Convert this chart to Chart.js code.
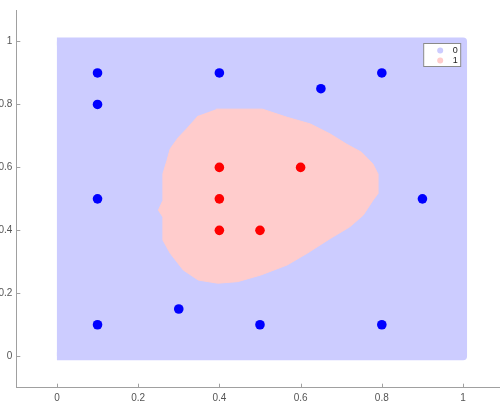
<!DOCTYPE html>
<html>
<head>
<meta charset="utf-8">
<script src="https://cdn.jsdelivr.net/npm/chart.js@4"></script>
<style>
  html, body { margin: 0; padding: 0; background: #fff; }
  #wrap { width: 504px; height: 401px; }
</style>
</head>
<body>
<div id="wrap"><canvas id="chart" width="504" height="401"></canvas></div>
<script>
// clases y etiquetas
const classes = ["0", "1"];
const tickValues = [0, 0.2, 0.4, 0.6, 0.8, 1];
const tickLabels = ["0", "0.2", "0.4", "0.6", "0.8", "1"];

// puntos de entrenamiento, clase 0
const class0X = [0.1, 0.4, 0.8, 0.65, 0.1, 0.1, 0.9, 0.3, 0.1, 0.5, 0.8];
const class0Y = [0.9, 0.9, 0.9, 0.85, 0.8, 0.5, 0.5, 0.15, 0.1, 0.1, 0.1];

// puntos de entrenamiento, clase 1
const class1X = [0.4, 0.6, 0.4, 0.4, 0.5];
const class1Y = [0.6, 0.6, 0.5, 0.4, 0.4];

// region de la clase 0 (toda la rejilla)
const region0X = [0, 1, 1, 0];
const region0Y = [0, 0, 1, 1];

// contorno de la region de la clase 1
const region1X = [0.392, 0.506, 0.567, 0.624, 0.673, 0.713, 0.750, 0.778, 0.790, 0.790,
                  0.778, 0.754, 0.721, 0.673, 0.616, 0.567, 0.502, 0.445, 0.396, 0.348,
                  0.311, 0.279, 0.261, 0.261, 0.250, 0.261, 0.261, 0.271, 0.279, 0.299,
                  0.319, 0.348];
const region1Y = [0.785, 0.785, 0.759, 0.738, 0.706, 0.674, 0.648, 0.611, 0.580, 0.516,
                  0.495, 0.448, 0.411, 0.374, 0.327, 0.290, 0.258, 0.237, 0.232, 0.242,
                  0.274, 0.327, 0.369, 0.442, 0.464, 0.495, 0.580, 0.622, 0.659, 0.695,
                  0.722, 0.764];

const toXY = (xs, ys) => xs.map((x, i) => ({ x: x, y: ys[i] }));

const regionColors = ["rgb(204,204,255)", "rgb(255,204,204)"];
const pointColors = ["rgb(0,0,255)", "rgb(255,0,0)"];
const axisColor = "#a0a0a0";

// ticks hacia adentro (estilo matlab)
const innerTicks = {
  id: "innerTicks",
  afterDraw(chart) {
    const { ctx, chartArea, scales } = chart;
    ctx.save();
    ctx.strokeStyle = axisColor;
    ctx.lineWidth = 1;
    ctx.beginPath();
    tickValues.forEach(v => {
      const px = Math.round(scales.x.getPixelForValue(v)) + 0.5;
      ctx.moveTo(px, chartArea.bottom);
      ctx.lineTo(px, chartArea.bottom - 4);
      const py = Math.round(scales.y.getPixelForValue(v)) + 0.5;
      ctx.moveTo(chartArea.left, py);
      ctx.lineTo(chartArea.left + 4, py);
    });
    ctx.stroke();
    ctx.restore();
  }
};

// leyenda con recuadro
const boxLegend = {
  id: "boxLegend",
  afterDraw(chart) {
    const { ctx, chartArea } = chart;
    const x0 = chartArea.right - 75.5, y0 = chartArea.top + 33.5;
    const w = 37, h = 23;
    ctx.save();
    ctx.fillStyle = "#fff";
    ctx.fillRect(x0, y0, w, h);
    ctx.strokeStyle = "#8a8a8a";
    ctx.lineWidth = 1;
    ctx.strokeRect(x0, y0, w, h);
    ctx.font = "9px 'Liberation Sans', Arial, sans-serif";
    ctx.textAlign = "right";
    ctx.textBaseline = "middle";
    classes.forEach((c, i) => {
      const cy = y0 + 7 + i * 10;
      ctx.fillStyle = regionColors[i];
      ctx.beginPath();
      ctx.arc(x0 + 16.5, cy, 3, 0, Math.PI * 2);
      ctx.fill();
      ctx.fillStyle = "#222";
      ctx.fillText(c, x0 + w - 3, cy + 0.5);
    });
    ctx.restore();
  }
};

const ctx = document.getElementById("chart").getContext("2d");
const chart = new Chart(ctx, {
  type: "scatter",
  data: {
    datasets: [
      {
        label: classes[0] + " puntos",
        data: toXY(class0X, class0Y),
        backgroundColor: pointColors[0],
        pointRadius: 4.8,
        pointBorderWidth: 0
      },
      {
        label: classes[1] + " puntos",
        data: toXY(class1X, class1Y),
        backgroundColor: pointColors[1],
        pointRadius: 4.8,
        pointBorderWidth: 0
      },
      {
        label: classes[1],
        data: toXY(region1X, region1Y),
        showLine: true,
        fill: "shape",
        backgroundColor: regionColors[1],
        borderColor: regionColors[1],
        borderWidth: 1,
        pointRadius: 0
      },
      {
        label: classes[0],
        data: toXY(region0X, region0Y),
        showLine: true,
        fill: "shape",
        backgroundColor: regionColors[0],
        borderColor: regionColors[0],
        borderWidth: 8,
        borderJoinStyle: "round",
        pointRadius: 0
      }
    ]
  },
  options: {
    responsive: false,
    animation: false,
    layout: { padding: { top: 8, left: 0, right: 0, bottom: 0 } },
    plugins: {
      legend: { display: false },
      tooltip: { enabled: false }
    },
    scales: {
      x: {
        type: "linear",
        min: -0.1,
        max: 1.089,
        afterBuildTicks: s => { s.ticks = tickValues.map(v => ({ value: v })); },
        afterFit: s => { s.height = 13.3; },
        grid: { display: false, drawTicks: false },
        border: { display: true, color: axisColor, width: 1 },
        ticks: {
          padding: 5,
          color: "#555",
          font: { size: 10, family: "'Liberation Sans', Arial, sans-serif" },
          callback: (v) => tickLabels[tickValues.indexOf(v)] ?? ""
        }
      },
      y: {
        type: "linear",
        min: -0.1,
        max: 1.1,
        afterBuildTicks: s => { s.ticks = tickValues.map(v => ({ value: v })); },
        afterFit: s => { s.width = 16.3; },
        grid: { display: false, drawTicks: false },
        border: { display: true, color: axisColor, width: 1 },
        ticks: {
          padding: 4,
          color: "#555",
          font: { size: 10, family: "'Liberation Sans', Arial, sans-serif" },
          callback: (v) => tickLabels[tickValues.indexOf(v)] ?? ""
        }
      }
    }
  },
  plugins: [innerTicks, boxLegend]
});
</script>
</body>
</html>
